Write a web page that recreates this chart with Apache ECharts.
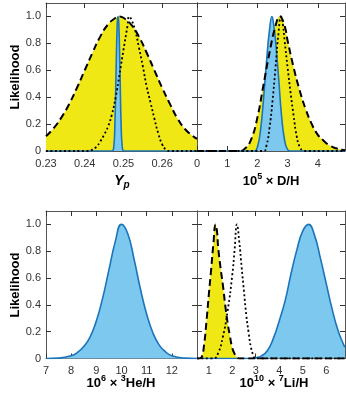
<!DOCTYPE html>
<html><head><meta charset="utf-8">
<script src="https://cdn.jsdelivr.net/npm/echarts@6/dist/echarts.min.js"></script>
<style>html,body{margin:0;padding:0;background:#fff}#c{width:346px;height:394px}</style>
</head><body><div id="c"></div>
<script>
// ---- tick labels ----
const yTicks = [0, 0.2, 0.4, 0.6, 0.8, 1.0];
const ypTicks = [0.23, 0.24, 0.25, 0.26];
const dhTicks = [0, 1, 2, 3, 4];
const heTicks = [7, 8, 9, 10, 11, 12];
const liTicks = [1, 2, 3, 4, 5, 6];

// ---- Panel 1: Yp ----
const ypYellowX = [0.230,0.232,0.234,0.236,0.238,0.240,0.242,0.244,0.246,0.248,0.249,0.250,0.252,0.254,0.256,0.258,0.260,0.262,0.264,0.266,0.268,0.269];
const ypYellowY = [0.11,0.17,0.25,0.35,0.47,0.60,0.73,0.85,0.94,0.99,1.00,0.99,0.94,0.85,0.73,0.60,0.47,0.35,0.24,0.16,0.11,0.09];
const ypDotX = [0.230,0.241,0.242,0.243,0.244,0.245,0.246,0.247,0.248,0.249,0.250,0.251,0.2515,0.252,0.253,0.254,0.255,0.256,0.257,0.258,0.259,0.260,0.261,0.262,0.269];
const ypDotY = [0,0,0.01,0.03,0.07,0.12,0.18,0.27,0.40,0.57,0.75,0.92,1.0,0.98,0.90,0.77,0.63,0.48,0.36,0.24,0.13,0.05,0.01,0,0];
const ypBlueX = [0.230,0.2470,0.2475,0.2478,0.2481,0.2484,0.2486,0.2488,0.2491,0.2494,0.2497,0.2502,0.269];
const ypBlueY = [0,0,0.03,0.2,0.6,0.95,1.0,0.95,0.6,0.2,0.03,0,0];

// ---- Panel 2: D/H ----
const dhYellowX = [0,1.4,1.6,1.8,2.0,2.2,2.4,2.6,2.74,2.9,3.0,3.2,3.4,3.6,3.8,4.0,4.2,4.4,4.6,4.8,4.9];
const dhYellowY = [0,0,0.02,0.09,0.25,0.49,0.73,0.93,1.0,0.93,0.82,0.62,0.45,0.31,0.2,0.12,0.075,0.04,0.02,0.01,0.005];
const dhDotX = [0,2.2,2.3,2.4,2.5,2.6,2.7,2.78,2.85,2.9,3.0,3.1,3.2,3.3,3.4,3.5,3.6,4.9];
const dhDotY = [0,0,0.04,0.17,0.37,0.62,0.88,1.0,0.93,0.82,0.62,0.43,0.26,0.11,0.03,0.005,0,0];
const dhBlueX = [0,1.9,2.0,2.1,2.2,2.3,2.4,2.48,2.55,2.6,2.7,2.8,2.9,3.0,3.1,4.9];
const dhBlueY = [0,0,0.03,0.15,0.38,0.66,0.90,1.0,0.92,0.82,0.55,0.26,0.08,0.01,0,0];

// ---- Panel 3: 3He/H ----
const heBlueX = [7,7.5,8,8.25,8.5,8.75,9,9.25,9.5,9.75,10,10.25,10.5,10.75,11,11.25,11.5,11.75,12,12.5,13];
const heBlueY = [0,0.003,0.02,0.045,0.09,0.16,0.28,0.45,0.66,0.87,1.0,0.93,0.74,0.52,0.33,0.19,0.10,0.05,0.02,0.003,0];

// ---- Panel 4: 7Li/H ----
const liYellowX = [0.5,0.6,0.7,0.8,0.9,1.0,1.1,1.2,1.29,1.35,1.4,1.5,1.6,1.7,1.8,1.9,2.0,2.1,2.2,2.3,6.8];
const liYellowY = [0,0,0.01,0.1,0.27,0.47,0.66,0.86,1.0,0.95,0.83,0.68,0.55,0.40,0.27,0.17,0.08,0.035,0.01,0,0];
const liDotX = [0.5,1.2,1.4,1.6,1.8,2.0,2.1,2.2,2.3,2.4,2.5,2.6,2.7,2.8,2.9,3.0,6.8];
const liDotY = [0,0,0.04,0.16,0.35,0.62,0.81,1.0,0.87,0.68,0.50,0.32,0.19,0.08,0.025,0,0];
const liBlueX = [0.5,2.8,3.0,3.25,3.5,3.75,4.0,4.25,4.5,4.75,5.0,5.25,5.5,5.75,6.0,6.25,6.5,6.75,6.8];
const liBlueY = [0,0,0.005,0.02,0.06,0.15,0.28,0.43,0.63,0.81,0.95,1.0,0.92,0.75,0.56,0.37,0.21,0.1,0.085];

const YELLOW = '#F0E814', BLUEFILL = '#7DC8EE', BLUELINE = '#1B75BB';
const FRAME = '#555', FONT = 'Liberation Sans, Arial, sans-serif';

const pairs = (xs, ys) => xs.map((x, i) => [x, ys[i]]);

const grids = [
  {left: 46, top: 3, width: 151, height: 148},
  {left: 197, top: 3, width: 148, height: 148},
  {left: 46, top: 211, width: 151, height: 147.5},
  {left: 197, top: 211, width: 148, height: 147.5}
];
const xRanges = [[0.23, 0.269], [0, 4.9], [7, 13], [0.5, 6.8]];
const xTickSets = [ypTicks, dhTicks, heTicks, liTicks];
const xFmt = [v => v.toFixed(2), v => String(v), v => String(v), v => String(v)];

const xAxis = [], yAxis = [];
grids.forEach((g, i) => {
  const common = {type: 'value', gridIndex: i, min: xRanges[i][0], max: xRanges[i][1],
    splitLine: {show: false},
    axisLine: {show: true, onZero: false, lineStyle: {color: FRAME, width: 1}},
    axisTick: {show: true, inside: true, length: 5, customValues: xTickSets[i], lineStyle: {color: '#333'}}};
  xAxis.push(Object.assign({}, common, {position: 'bottom',
    axisLabel: {show: true, customValues: xTickSets[i], formatter: xFmt[i], color: '#333', fontSize: 11, fontFamily: FONT, margin: 7}}));
  xAxis.push(Object.assign({}, common, {position: 'top', axisLabel: {show: false}}));
  const yc = {type: 'value', gridIndex: i, min: 0, max: 1.1, splitLine: {show: false},
    axisLine: {show: true, onZero: false, lineStyle: {color: FRAME, width: 1}},
    axisTick: {show: true, inside: true, length: 5, customValues: yTicks, lineStyle: {color: '#333'}}};
  yAxis.push(Object.assign({}, yc, {position: 'left',
    axisLabel: {show: i % 2 === 0, customValues: yTicks, formatter: v => v === 0 ? '0' : v.toFixed(1), color: '#333', fontSize: 11, fontFamily: FONT, margin: 5}}));
  yAxis.push(Object.assign({}, yc, {position: 'right', axisLabel: {show: false}}));
});

function areaSeries(i, xs, ys, fill, lineStyle, z) {
  return {type: 'line', xAxisIndex: 2 * i, yAxisIndex: 2 * i, data: pairs(xs, ys), showSymbol: false,
    smooth: 0.5, z: z, silent: true,
    lineStyle: lineStyle, areaStyle: fill ? {color: fill, opacity: 1} : undefined};
}
const dashed = {color: '#000', width: 2, type: [7, 4]};
const dotted = {color: '#000', width: 1.8, type: [2, 2.5]};
const blueL = {color: BLUELINE, width: 1.6};
const noLine = {width: 0, opacity: 0};

const series = [
  areaSeries(0, ypYellowX, ypYellowY, YELLOW, noLine, 1),
  areaSeries(0, ypBlueX, ypBlueY, BLUEFILL, blueL, 2),
  areaSeries(0, ypDotX, ypDotY, null, dotted, 3),
  areaSeries(0, ypYellowX, ypYellowY, null, dashed, 4),

  areaSeries(1, dhYellowX, dhYellowY, YELLOW, noLine, 1),
  areaSeries(1, dhBlueX, dhBlueY, BLUEFILL, blueL, 2),
  areaSeries(1, dhDotX, dhDotY, null, dotted, 3),
  areaSeries(1, dhYellowX, dhYellowY, null, dashed, 4),

  areaSeries(2, heBlueX, heBlueY, BLUEFILL, blueL, 2),

  areaSeries(3, liYellowX, liYellowY, YELLOW, noLine, 1),
  areaSeries(3, liBlueX, liBlueY, BLUEFILL, blueL, 2),
  areaSeries(3, liDotX, liDotY, null, dotted, 3),
  areaSeries(3, liYellowX, liYellowY, null, dashed, 4)
];

const rich = {
  m: {fontSize: 13, fontWeight: 'bold', fontFamily: FONT, color: '#222', lineHeight: 18},
  mi: {fontSize: 14, fontWeight: 'bold', fontStyle: 'italic', fontFamily: FONT, color: '#222', lineHeight: 18},
  sup: {fontSize: 9, fontWeight: 'bold', fontFamily: FONT, color: '#222', lineHeight: 9, verticalAlign: 'top'},
  sub: {fontSize: 10, fontWeight: 'bold', fontStyle: 'italic', fontFamily: FONT, color: '#222', lineHeight: 9, verticalAlign: 'bottom'}
};
function label(x, y, text, rot) {
  return {type: 'text', x: x, y: y, rotation: rot || 0, silent: true,
    style: {text: text, rich: rich, align: 'center', verticalAlign: 'middle'}};
}
const graphic = [
  label(15, 77, '{m|Likelihood}', Math.PI / 2),
  label(15, 285, '{m|Likelihood}', Math.PI / 2),
  label(122, 181, '{mi|Y}{sub|p}'),
  label(271, 181, '{m|10}{sup|5}{m| × D/H}'),
  label(121, 383, '{m|10}{sup|6}{m| × }{sup|3}{m|He/H}'),
  label(274, 383, '{m|10}{sup|10}{m| × }{sup|7}{m|Li/H}')
];

const chart = echarts.init(document.getElementById('c'), null, {renderer: 'canvas'});
chart.setOption({animation: false, grid: grids, xAxis: xAxis, yAxis: yAxis, series: series, graphic: graphic});
</script></body></html>
